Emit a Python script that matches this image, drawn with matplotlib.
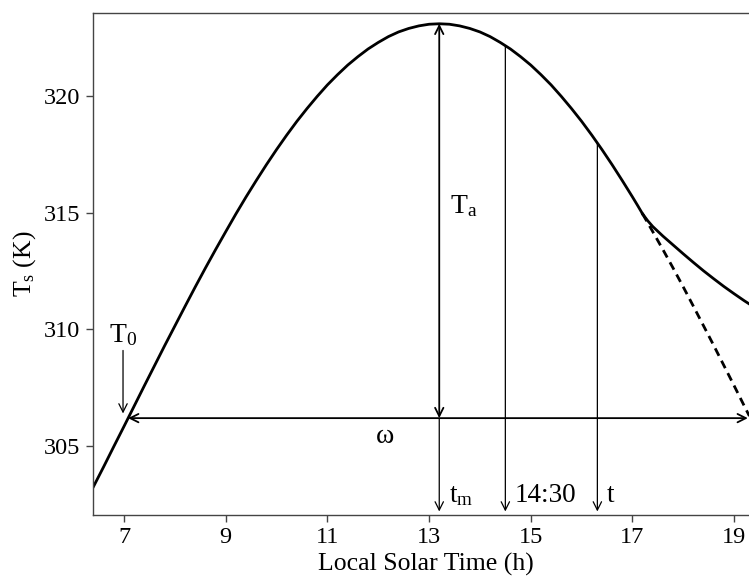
import numpy as np
import matplotlib
matplotlib.use("Agg")
import matplotlib.pyplot as plt

plt.rcParams["font.family"] = ["Liberation Serif", "DejaVu Serif"]
plt.rcParams["mathtext.fontset"] = "custom"
plt.rcParams["mathtext.rm"] = "Liberation Serif"
plt.rcParams["mathtext.it"] = "Liberation Serif:italic"

# daytime curve (cosine part)
day_t = [6.4, 6.6, 6.8, 7.0, 7.2, 7.4, 7.6, 7.8, 8.0, 8.2, 8.4, 8.6, 8.8, 9.0,
         9.2, 9.4, 9.6, 9.8, 10.0, 10.2, 10.4, 10.6, 10.8, 11.0, 11.2, 11.4,
         11.6, 11.8, 12.0, 12.2, 12.4, 12.6, 12.8, 13.0, 13.2, 13.4, 13.6, 13.8,
         14.0, 14.2, 14.4, 14.6, 14.8, 15.0, 15.2, 15.4, 15.6, 15.8, 16.0, 16.2,
         16.4, 16.6, 16.8, 17.0, 17.1, 17.2]
day_T = [303.27, 304.12, 304.99, 305.85, 306.72, 307.59, 308.45, 309.31, 310.15,
         310.99, 311.82, 312.63, 313.42, 314.19, 314.95, 315.68, 316.38, 317.06,
         317.71, 318.33, 318.92, 319.47, 319.99, 320.48, 320.92, 321.33, 321.69,
         322.02, 322.30, 322.55, 322.75, 322.90, 323.01, 323.08, 323.10, 323.08,
         323.01, 322.90, 322.75, 322.55, 322.30, 322.02, 321.69, 321.33, 320.92,
         320.48, 319.99, 319.47, 318.92, 318.33, 317.71, 317.06, 316.38, 315.68,
         315.32, 314.95]

# evening decay (solid) and continued cosine (dashed)
tail_t = [17.2, 17.3, 17.4, 17.6, 17.8, 18.0, 18.2, 18.4, 18.6, 18.8, 19.0, 19.2,
          19.4, 19.5]
tail_T = [314.95, 314.66, 314.41, 314.00, 313.62, 313.24, 312.87, 312.51, 312.17,
          311.84, 311.53, 311.23, 310.95, 310.82]
cos_t = [17.2, 17.4, 17.6, 17.8, 18.0, 18.2, 18.4, 18.6, 18.8, 19.0, 19.2, 19.3]
cos_T = [314.95, 314.19, 313.42, 312.63, 311.82, 310.99, 310.15, 309.31, 308.45,
         307.59, 306.72, 306.29]

# key parameters
T0 = 306.2
t_rise = 7.08
t_set = 19.27
tm = 13.2
Tmax = 323.1
mark_t = [13.2, 14.5, 16.31]
mark_lab = [r"$\mathrm{t_m}$", "14:30", "t"]
mark_bottom = 302.2

xticks = [7, 9, 11, 13, 15, 17, 19]
yticks = [305, 310, 315, 320]

fig = plt.figure(figsize=(7.49, 5.77), dpi=100)
ax = fig.add_axes([0.1242, 0.1075, 0.8892, 0.8695])

ax.plot(day_t, day_T, color="black", lw=2.0, solid_joinstyle="round")
ax.plot(tail_t, tail_T, color="black", lw=2.0, solid_joinstyle="round")
ax.plot(cos_t, cos_T, color="black", lw=2.0, linestyle=(0, (3, 2)))

arrow_thick = dict(arrowstyle="<->", color="black", lw=1.3, shrinkA=0, shrinkB=0,
                   mutation_scale=15)
arrow_thin = dict(arrowstyle="->", color="black", lw=0.9, shrinkA=0, shrinkB=0,
                  mutation_scale=15)

# amplitude Ta
ax.annotate("", xy=(tm, Tmax), xytext=(tm, T0), arrowprops=arrow_thick)
ax.text(tm + 0.21, 315.85, r"$\mathrm{T_a}$", fontsize=20, ha="left", va="top")

# width omega
ax.annotate("", xy=(t_rise, T0), xytext=(t_set, T0), arrowprops=arrow_thick)
ax.text(12.13, 305.4, "ω", fontsize=20, ha="center", va="center")

# T0 pointer
ax.annotate("", xy=(6.98, 306.4), xytext=(6.98, 309.1), arrowprops=arrow_thin)
ax.text(6.98, 309.2, r"$\mathrm{T_0}$", fontsize=20, ha="center", va="bottom")

# time markers
for tk, lab in zip(mark_t, mark_lab):
    top = T0 if tk == tm else np.interp(tk, day_t, day_T)
    ax.annotate("", xy=(tk, mark_bottom), xytext=(tk, top), arrowprops=arrow_thin)
    ax.text(tk + 0.19, 302.6, lab, fontsize=19.5, ha="left", va="baseline")

ax.set_xlim(6.39, 19.49)
ax.set_ylim(302.05, 323.55)
ax.set_xticks(xticks)
ax.set_yticks(yticks)
ax.tick_params(labelsize=17.5, length=5, width=1, color="#444444", pad=4)
for side in ["left", "bottom", "top", "right"]:
    ax.spines[side].set_color("#444444")
    ax.spines[side].set_linewidth(1.0)

ax.set_xlabel("Local Solar Time (h)", fontsize=18.5, labelpad=3)
ax.set_ylabel(r"$\mathrm{T_s}$ (K)", fontsize=18.5, labelpad=4)

fig.savefig("out.png", dpi=100)
